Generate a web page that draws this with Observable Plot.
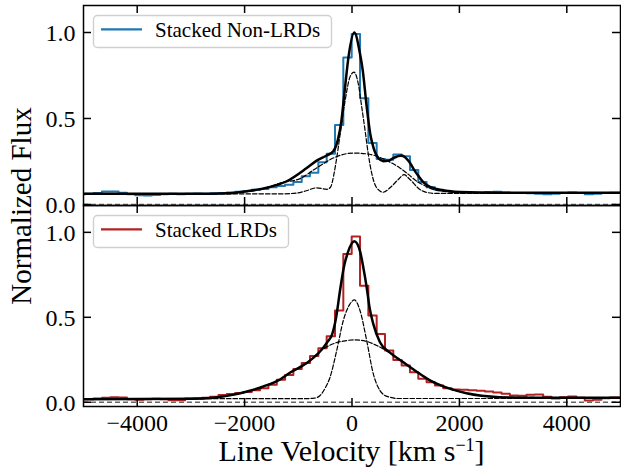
<!DOCTYPE html>
<html><head><meta charset="utf-8">
<script src="https://cdn.jsdelivr.net/npm/d3@7"></script>
<script src="https://cdn.jsdelivr.net/npm/@observablehq/plot@0.6"></script>
<style>
body{margin:0;background:#fff;}
#fig{position:relative;width:621px;height:467px;font-family:"Liberation Serif","DejaVu Serif",serif;}
#fig svg{position:absolute;left:0;top:0;}
#fig svg, #fig svg text{font-family:"Liberation Serif","DejaVu Serif",serif !important;}
</style></head><body><div id="fig"></div>
<script>
// ---- data (km/s, normalized flux) ----
const binCenters = [-5044,-4889,-4734,-4579,-4424,-4269,-4114,-3959,-3804,-3649,-3494,-3339,-3184,-3029,-2874,-2719,-2564,-2409,-2254,-2099,-1944,-1789,-1634,-1479,-1324,-1169,-1014,-859,-704,-549,-394,-239,-84,72,227,382,537,692,847,1002,1157,1312,1467,1622,1777,1932,2087,2242,2397,2552,2707,2862,3017,3172,3327,3482,3637,3792,3947,4102,4257,4412,4567,4722,4877,5032];
const nonLrdFlux = [0.06,0.062,0.066,0.075,0.076,0.068,0.06,0.054,0.052,0.055,0.06,0.062,0.06,0.062,0.064,0.063,0.065,0.067,0.07,0.074,0.078,0.085,0.09,0.1,0.108,0.115,0.13,0.164,0.185,0.245,0.295,0.462,0.855,0.992,0.617,0.357,0.265,0.26,0.29,0.28,0.2,0.13,0.1,0.085,0.078,0.072,0.07,0.068,0.068,0.072,0.074,0.07,0.067,0.066,0.065,0.062,0.06,0.063,0.066,0.07,0.066,0.06,0.062,0.066,0.068,0.068];
const lrdFlux = [0.017,0.017,0.022,0.027,0.03,0.028,0.017,0.015,0.018,0.02,0.017,0.012,0.012,0.022,0.024,0.027,0.032,0.042,0.049,0.054,0.061,0.071,0.083,0.103,0.132,0.16,0.195,0.231,0.272,0.318,0.389,0.54,0.873,0.976,0.685,0.51,0.402,0.304,0.249,0.217,0.177,0.138,0.118,0.098,0.083,0.075,0.073,0.071,0.068,0.063,0.058,0.05,0.04,0.038,0.044,0.046,0.032,0.022,0.03,0.034,0.027,0.01,0.014,0.024,0.028,0.028];

const nonLrdFitV = [-5000,-3000,-2270,-1959,-1587,-1215,-843,-657,-470,-348,-260,-200,-140,-60,43,149,200,273,340,400,489,582,680,768,925,1079,1160,1234,1327,1400,1576,1800,2009,2753,5000];
const nonLrdFitY = [0.062,0.062,0.065,0.077,0.097,0.135,0.212,0.255,0.285,0.31,0.38,0.48,0.65,0.87,1.0,0.876,0.78,0.57,0.41,0.33,0.27,0.252,0.255,0.27,0.285,0.242,0.2,0.167,0.13,0.112,0.09,0.078,0.072,0.068,0.068];
const nonLrdNarrowV = [-5000,-1300,-1029,-850,-657,-470,-400,-340,-290,-220,-130,-37,37,118,180,242,300,366,459,583,707,862,967,1079,1265,1420,1576,5000];
const nonLrdNarrowY = [0.062,0.062,0.066,0.08,0.097,0.088,0.1,0.17,0.26,0.41,0.6,0.742,0.77,0.7,0.57,0.434,0.3,0.183,0.097,0.071,0.097,0.145,0.173,0.145,0.087,0.068,0.064,0.064];
const nonLrdBroadV = [-5000,-2800,-2300,-1953,-1600,-1340,-967,-720,-595,-348,24,250,460,582,893,1050,1204,1350,1513,1750,2009,5000];
const nonLrdBroadY = [0.062,0.062,0.066,0.075,0.097,0.125,0.15,0.2,0.225,0.27,0.299,0.295,0.281,0.265,0.212,0.175,0.135,0.11,0.087,0.075,0.068,0.068];

const lrdFitV = [-5000,-3000,-2575,-2250,-1955,-1650,-1340,-1150,-843,-600,-450,-370,-300,-220,-150,-80,43,149,220,273,330,396,521,707,955,1204,1450,1700,2134,2753,3300,5000];
const lrdFitY = [0.017,0.02,0.027,0.042,0.063,0.093,0.134,0.175,0.231,0.297,0.358,0.4,0.491,0.664,0.797,0.879,0.947,0.889,0.777,0.677,0.552,0.461,0.353,0.292,0.236,0.18,0.129,0.093,0.053,0.03,0.026,0.026];
const lrdNarrowV = [-5000,-900,-700,-595,-500,-409,-285,-162,-37,43,149,273,396,521,600,707,850,5000];
const lrdNarrowY = [0.021,0.021,0.024,0.04,0.083,0.147,0.304,0.481,0.579,0.602,0.54,0.364,0.168,0.069,0.042,0.03,0.022,0.022];
const lrdBroadV = [-5000,-3000,-2575,-2250,-1955,-1650,-1340,-1150,-967,-843,-534,-300,-162,43,250,460,831,1204,1576,2134,2753,5000];
const lrdBroadY = [0.017,0.02,0.027,0.042,0.063,0.093,0.134,0.175,0.206,0.231,0.314,0.35,0.36,0.367,0.36,0.334,0.265,0.18,0.11,0.053,0.03,0.026];

const xTicks = [-4000,-2000,0,2000,4000];
const yTicks = [0,0.5,1.0];
const legendLabels = ["Stacked Non-LRDs","Stacked LRDs"];
const colors = ["#1f77b4","#b22222"];

const W = 621, H = 467, ML = 83, MR = 1;
const FONT = "'Liberation Serif', 'DejaVu Serif', serif";
const pts = (V, Y) => V.map((v, i) => ({v, f: Y[i]}));

function panel({hist, color, fit, narrow, broad, top, bottom, yDomain, xLabels}) {
  const plotH = H - top - bottom, plotW = W - ML - MR, tl = 8;
  return Plot.plot({
    width: W, height: H, marginLeft: ML, marginRight: MR, marginTop: top, marginBottom: bottom,
    style: {background: "transparent", overflow: "visible", fontFamily: FONT, fontSize: "24px", color: "black"},
    x: {domain: [-5000, 5000], axis: xLabels ? undefined : null},
    y: {domain: yDomain},
    marks: [
      Plot.ruleY([0], {stroke: "#666", strokeWidth: 1.3, strokeDasharray: "5,3"}),
      Plot.line(hist, {x: "v", y: "f", curve: "step", stroke: color, strokeWidth: 2, clip: true}),
      Plot.line(narrow, {x: "v", y: "f", curve: "monotone-x", stroke: "black", strokeWidth: 1.2, strokeDasharray: "4.5,2", clip: true}),
      Plot.line(broad, {x: "v", y: "f", curve: "monotone-x", stroke: "black", strokeWidth: 1.2, strokeDasharray: "4.5,2", clip: true}),
      Plot.line(fit, {x: "v", y: "f", curve: "monotone-x", stroke: "black", strokeWidth: 2.5, clip: true}),
      Plot.frame({stroke: "black", strokeWidth: 1.5}),
      Plot.tickX(xTicks, {x: d => d, insetBottom: plotH - tl, stroke: "black", strokeWidth: 1.5}),
      Plot.tickX(xTicks, {x: d => d, insetTop: plotH - tl, stroke: "black", strokeWidth: 1.5}),
      Plot.tickY(yTicks, {y: d => d, insetRight: plotW - tl, stroke: "black", strokeWidth: 1.5}),
      Plot.tickY(yTicks, {y: d => d, insetLeft: plotW - tl, stroke: "black", strokeWidth: 1.5}),
      Plot.axisY(yTicks, {anchor: "left", tickSize: 0, tickPadding: 8, tickFormat: d3.format(".1f"), label: null, dy: 1, fontFamily: FONT}),
      xLabels ? Plot.axisX(xTicks, {anchor: "bottom", tickSize: 0, tickPadding: 7, tickFormat: d3.format("d"), label: null, fontFamily: FONT}) : null
    ]
  });
}

const fig = document.getElementById("fig");
fig.appendChild(panel({
  hist: pts(binCenters, nonLrdFlux), color: colors[0],
  fit: pts(nonLrdFitV, nonLrdFitY), narrow: pts(nonLrdNarrowV, nonLrdNarrowY), broad: pts(nonLrdBroadV, nonLrdBroadY),
  top: 5, bottom: H - 205, yDomain: [-0.006, 1.157], xLabels: false
}));
fig.appendChild(panel({
  hist: pts(binCenters, lrdFlux), color: colors[1],
  fit: pts(lrdFitV, lrdFitY), narrow: pts(lrdNarrowV, lrdNarrowY), broad: pts(lrdBroadV, lrdBroadY),
  top: 205, bottom: H - 406, yDomain: [-0.025, 1.158], xLabels: true
}));

// legends and axis labels
const ns = "http://www.w3.org/2000/svg";
const ov = document.createElementNS(ns, "svg");
ov.setAttribute("width", W); ov.setAttribute("height", H);
const legBoxes = [{x: 93.5, y: 15.5, w: 238, h: 32, ly: 29.3, ty: 37.3}, {x: 93.5, y: 215.5, w: 195, h: 32, ly: 229.3, ty: 237.3}];
let html = "";
legBoxes.forEach((b, i) => {
  html += `<rect x="${b.x}" y="${b.y}" width="${b.w}" height="${b.h}" rx="4" fill="white" fill-opacity="0.8" stroke="#d0d0d0" stroke-width="1.4"/>`;
  html += `<line x1="101" x2="142" y1="${b.ly}" y2="${b.ly}" stroke="${colors[i]}" stroke-width="2.2"/>`;
  html += `<text x="155" y="${b.ty}" font-size="21" fill="black">${legendLabels[i]}</text>`;
});
html += `<text x="351.5" y="461" font-size="30" text-anchor="middle" fill="black">Line Velocity [km s<tspan dy="-10" font-size="18">−1</tspan><tspan dy="10">]</tspan></text>`;
html += `<text transform="translate(31,206) rotate(-90)" font-size="29" text-anchor="middle" fill="black">Normalized Flux</text>`;
ov.innerHTML = html;
fig.appendChild(ov);
</script></body></html>
